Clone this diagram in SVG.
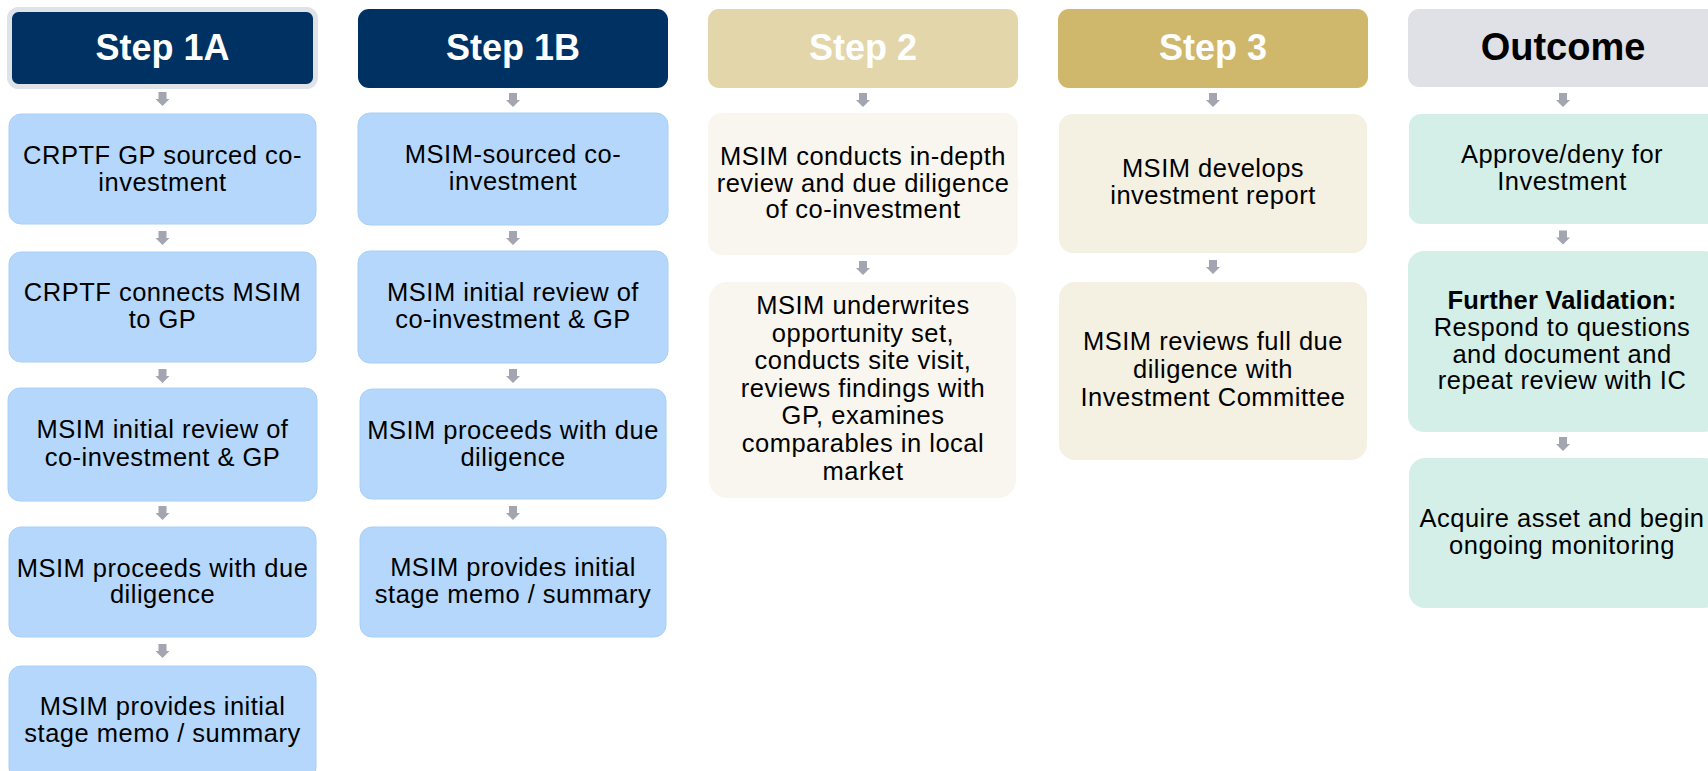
<svg xmlns="http://www.w3.org/2000/svg" width="1708" height="771" viewBox="0 0 1708 771">
<defs>
<style>
.hd{font-family:"Liberation Sans",Arial,sans-serif;font-weight:bold;font-size:36px;text-anchor:middle}
.tx{font-family:"Liberation Sans",Arial,sans-serif;font-size:25.5px;letter-spacing:0.5px;text-anchor:middle;fill:#000}
.w{fill:#fff}
.navy{fill:#003163}
.s2h{fill:#e3d6aa}
.s3h{fill:#cfb76b}
.oh{fill:#dfe1e6}
.blue{fill:#b5d7fb;stroke:#aacff6;stroke-width:1}
.c2{fill:#f9f6ef}
.c3{fill:#f4f0e2}
.mint{fill:#d3efe8}
</style>
<path id="arr" d="M-4,-7 H4 V0 H7 L0,7 L-7,0 H-4 Z" fill="#a3a6b1"/>
</defs>
<rect width="1708" height="771" fill="#fff"/>

<g id="connectors">
<use href="#arr" x="162.5" y="99"/>
<use href="#arr" x="162.5" y="238"/>
<use href="#arr" x="162.5" y="376"/>
<use href="#arr" x="162.5" y="513"/>
<use href="#arr" x="162.5" y="651"/>
<use href="#arr" x="513" y="100"/>
<use href="#arr" x="513" y="238"/>
<use href="#arr" x="513" y="376"/>
<use href="#arr" x="513" y="513"/>
<use href="#arr" x="863" y="100"/>
<use href="#arr" x="863" y="268"/>
<use href="#arr" x="1213" y="100"/>
<use href="#arr" x="1213" y="267"/>
<use href="#arr" x="1563" y="100"/>
<use href="#arr" x="1563" y="237.5"/>
<use href="#arr" x="1563" y="444"/>
</g>

<!-- Step 1A -->
<g id="h1a">
<rect x="9.5" y="9.5" width="306" height="77" rx="9" class="navy" stroke="#dfe2e7" stroke-width="5"/>
<text x="162.5" y="60" class="hd w">Step 1A</text>
</g>
<g id="a1">
<rect x="9" y="114" width="307" height="110" rx="12" class="blue"/>
<text class="tx"><tspan x="162.5" y="164">CRPTF GP sourced co-</tspan><tspan x="162.5" y="190.7">investment</tspan></text>
</g>
<g id="a2">
<rect x="9" y="252" width="307" height="110" rx="12" class="blue"/>
<text class="tx"><tspan x="162.5" y="300.7">CRPTF connects MSIM</tspan><tspan x="162.5" y="328">to GP</tspan></text>
</g>
<g id="a3">
<rect x="8" y="388" width="309" height="113" rx="12" class="blue"/>
<text class="tx"><tspan x="162.5" y="438.3">MSIM initial review of</tspan><tspan x="162.5" y="466">co-investment &amp; GP</tspan></text>
</g>
<g id="a4">
<rect x="9" y="527" width="307" height="110" rx="12" class="blue"/>
<text class="tx"><tspan x="162.5" y="576.7">MSIM proceeds with due</tspan><tspan x="162.5" y="603.3">diligence</tspan></text>
</g>
<g id="a5">
<rect x="9" y="666" width="307" height="114" rx="12" class="blue"/>
<text class="tx"><tspan x="162.5" y="715">MSIM provides initial</tspan><tspan x="162.5" y="741.7">stage memo / summary</tspan></text>
</g>

<!-- Step 1B -->
<g id="h1b">
<rect x="358" y="9" width="310" height="79" rx="11" class="navy"/>
<text x="513" y="60" class="hd w">Step 1B</text>
</g>
<g id="b1">
<rect x="358" y="113" width="310" height="112" rx="12" class="blue"/>
<text class="tx"><tspan x="513" y="163.3">MSIM-sourced co-</tspan><tspan x="513" y="190">investment</tspan></text>
</g>
<g id="b2">
<rect x="358" y="251" width="310" height="112" rx="12" class="blue"/>
<text class="tx"><tspan x="513" y="301">MSIM initial review of</tspan><tspan x="513" y="328.3">co-investment &amp; GP</tspan></text>
</g>
<g id="b3">
<rect x="360" y="389" width="306" height="110" rx="12" class="blue"/>
<text class="tx"><tspan x="513" y="439">MSIM proceeds with due</tspan><tspan x="513" y="466">diligence</tspan></text>
</g>
<g id="b4">
<rect x="360" y="527" width="306" height="110" rx="12" class="blue"/>
<text class="tx"><tspan x="513" y="576">MSIM provides initial</tspan><tspan x="513" y="603.3">stage memo / summary</tspan></text>
</g>

<!-- Step 2 -->
<g id="h2">
<rect x="708" y="9" width="310" height="79" rx="11" class="s2h"/>
<text x="863" y="60" class="hd w">Step 2</text>
</g>
<g id="s2a">
<rect x="708" y="113" width="310" height="142" rx="14" class="c2"/>
<text class="tx"><tspan x="863" y="165">MSIM conducts in-depth</tspan><tspan x="863" y="191.7">review and due diligence</tspan><tspan x="863" y="218.3">of co-investment</tspan></text>
</g>
<g id="s2b">
<rect x="709" y="282" width="307" height="216" rx="18" class="c2"/>
<text class="tx"><tspan x="863" y="314">MSIM underwrites</tspan><tspan x="863" y="341.6">opportunity set,</tspan><tspan x="863" y="369.2">conducts site visit,</tspan><tspan x="863" y="396.8">reviews findings with</tspan><tspan x="863" y="424.4">GP, examines</tspan><tspan x="863" y="452">comparables in local</tspan><tspan x="863" y="479.6">market</tspan></text>
</g>

<!-- Step 3 -->
<g id="h3">
<rect x="1058" y="9" width="310" height="79" rx="11" class="s3h"/>
<text x="1213" y="60" class="hd w">Step 3</text>
</g>
<g id="s3a">
<rect x="1059" y="114" width="308" height="139" rx="14" class="c3"/>
<text class="tx"><tspan x="1213" y="176.7">MSIM develops</tspan><tspan x="1213" y="204">investment report</tspan></text>
</g>
<g id="s3b">
<rect x="1059" y="282" width="308" height="178" rx="16" class="c3"/>
<text class="tx"><tspan x="1213" y="350">MSIM reviews full due</tspan><tspan x="1213" y="378">diligence with</tspan><tspan x="1213" y="405.5">Investment Committee</tspan></text>
</g>

<!-- Outcome -->
<g id="ho">
<rect x="1408" y="9" width="312" height="78" rx="11" class="oh"/>
<text x="1563" y="60" class="hd" style="font-size:38px" fill="#000">Outcome</text>
</g>
<g id="o1">
<rect x="1409" y="114" width="311" height="110" rx="12" class="mint"/>
<text class="tx"><tspan x="1562" y="163.3">Approve/deny for</tspan><tspan x="1562" y="190">Investment</tspan></text>
</g>
<g id="o2">
<rect x="1408" y="251" width="312" height="181" rx="16" class="mint"/>
<text class="tx"><tspan x="1562" y="309.3" font-weight="bold" letter-spacing="0.2">Further Validation:</tspan><tspan x="1562" y="336">Respond to questions</tspan><tspan x="1562" y="362.7">and document and</tspan><tspan x="1562" y="389.3">repeat review with IC</tspan></text>
</g>
<g id="o3">
<rect x="1409" y="458" width="311" height="150" rx="16" class="mint"/>
<text class="tx"><tspan x="1562" y="526.7">Acquire asset and begin</tspan><tspan x="1562" y="554">ongoing monitoring</tspan></text>
</g>
</svg>
